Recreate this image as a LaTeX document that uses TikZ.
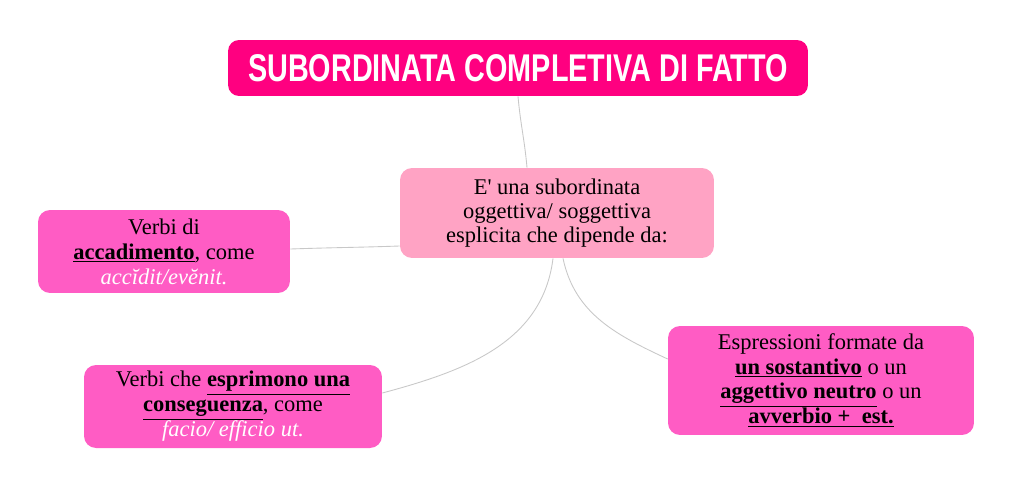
\documentclass[tikz,border=0pt]{standalone}
\usepackage{fontspec}
\setmainfont{Liberation Serif}
\newfontfamily\titlefont[FakeStretch=0.745]{Liberation Sans}
\usetikzlibrary{positioning}
\definecolor{titlepink}{HTML}{FF0080}
\definecolor{mainpink}{HTML}{FFA3C4}
\definecolor{leafpink}{HTML}{FF5CC4}
\definecolor{linkgray}{HTML}{C8C8C8}
\tikzset{titlebox/.style={rectangle, rounded corners=0.22cm, fill=titlepink, text=white, font=\titlefont\bfseries\fontsize{22}{24}\selectfont, align=center},
         mainbox/.style={rectangle, rounded corners=0.24cm, fill=mainpink, font=\fontsize{12.8}{13.5}\selectfont, align=center},
         leafbox/.style={rectangle, rounded corners=0.24cm, fill=leafpink, font=\fontsize{12.8}{14.2}\selectfont, align=center},
         link/.style={draw=linkgray, line width=0.5pt}}
\newcommand{\keyw}[1]{\underline{\textbf{#1}}}

\begin{document}
\begin{tikzpicture}[x=0.02cm, y=-0.02cm]
        \useasboundingbox (0,0) rectangle (1013,487);

        \node (title)[titlebox, minimum width=11.6cm, minimum height=1.12cm] at (518,68) {SUBORDINATA COMPLETIVA DI FATTO};

        \node (main)[mainbox, minimum width=6.28cm, minimum height=1.8cm] at (557,213) {E\textquotesingle\ una subordinata\\oggettiva/ soggettiva\\esplicita che dipende da:};
        \draw [link] (title.south) to[out=-85, in=95] ([xshift=-0.6cm]main.north);

        \node (accadere)[leafbox, minimum width=5.04cm, minimum height=1.66cm] at (164,251.5) {Verbi di\\\keyw{accadimento}, come\\\textcolor{white}{\itshape accĭdit/evĕnit.}};
        \draw [link] ([yshift=-0.66cm]main.west) to[out=182, in=2] ([yshift=0.05cm]accadere.east);

        \node (conseguenza)[leafbox, minimum width=5.96cm, minimum height=1.66cm] at (233,406.5) {Verbi che \keyw{esprimono una}\\\keyw{conseguenza}, come\\\textcolor{white}{\itshape facio/ efficio ut.}};
        \draw [link] ([xshift=-0.08cm]main.south) to[out=-97, in=15] ([yshift=0.27cm]conseguenza.east);

        \node (espressioni)[leafbox, minimum width=6.12cm, minimum height=2.18cm] at (821,380.5) {Espressioni formate da\\\keyw{un sostantivo} o un\\\keyw{aggettivo neutro} o un\\\keyw{avverbio +\ \ est.}};
        \draw [link] ([xshift=0.12cm]main.south) to[out=-78, in=155] ([yshift=0.43cm]espressioni.west);
\end{tikzpicture}
\end{document}
